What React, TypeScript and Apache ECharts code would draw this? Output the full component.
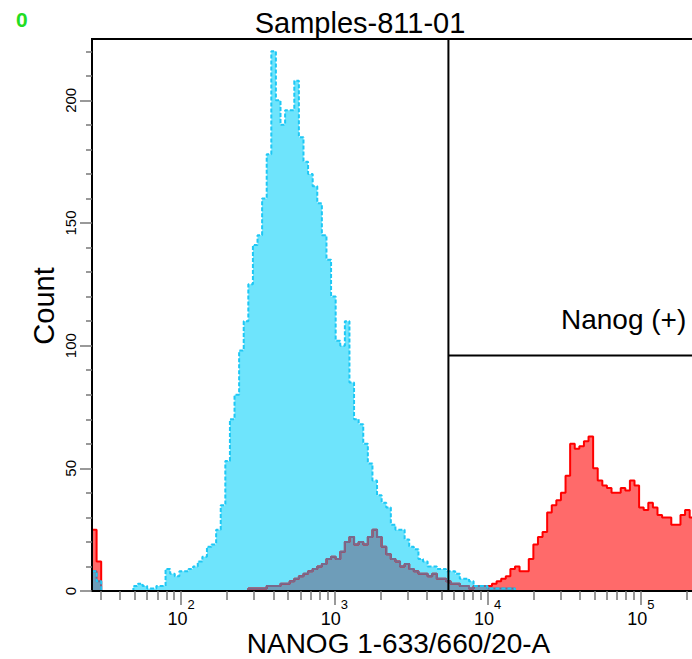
import React, { useEffect, useRef } from "react";
import * as echarts from "echarts";

// ---- axis ranges ----
const X_MIN = 26.2144;
const X_MAX = 262144;
const Y_MAX = 225;

// ---- histogram bins: log10 start and width (decades) ----
const BIN_LOG_START = Math.log10(X_MIN);
const BIN_LOG_WIDTH = 0.03;

// ---- control (cyan) histogram counts, one per bin ----
const CONTROL_COUNTS = [
  8, 4, 0, 0, 0, 0, 0, 0, 0, 2,
  3, 2, 1, 1, 2, 2, 9, 7, 6, 8,
  8, 9, 10, 12, 14, 18, 19, 25, 35, 53,
  70, 80, 98, 110, 125, 141, 145, 160, 178, 220,
  200, 190, 196, 196, 208, 185, 175, 170, 165, 158,
  145, 135, 120, 102, 100, 110, 85, 70, 68, 60,
  52, 45, 39, 36, 34, 27, 25, 25, 21, 18,
  17, 13, 12, 10, 10, 9, 9, 8, 8, 7,
  5, 5, 4, 2, 2, 2, 1, 1, 1, 1,
  1, 1, 0, 0, 0, 0, 0, 0, 0, 0,
  0, 0, 0, 0, 0, 0, 0, 0, 0, 0,
  0, 0, 0, 0, 0, 0, 0, 0, 0, 0,
  0, 0, 0, 0, 0, 0, 0, 0, 0, 0,
  0, 0, 0, 0,
];

// ---- sample (red) histogram counts, one per bin ----
const SAMPLE_COUNTS = [
  25, 12, 0, 0, 0, 0, 0, 0, 0, 0,
  0, 0, 0, 0, 0, 0, 0, 0, 0, 0,
  0, 0, 0, 0, 0, 0, 0, 0, 0, 0,
  0, 0, 0, 0, 1, 1, 1, 1, 2, 2,
  2, 3, 3, 4, 5, 6, 7, 8, 9, 10,
  11, 13, 14, 13, 16, 20, 22, 19, 20, 19,
  22, 25, 22, 18, 15, 13, 12, 10, 11, 9,
  8, 7, 7, 6, 7, 5, 5, 4, 3, 3,
  2, 2, 1, 2, 2, 2, 2, 3, 4, 5,
  6, 9, 10, 8, 8, 13, 19, 22, 24, 32,
  35, 37, 40, 47, 60, 58, 59, 61, 63, 50,
  45, 43, 42, 40, 40, 42, 41, 45, 43, 34,
  33, 36, 34, 31, 30, 30, 27, 27, 31, 33,
  30, 29, 28, 27,
];

// ---- ticks ----
const Y_MAJOR_TICKS = [0, 50, 100, 150, 200];
const Y_MINOR_TICKS = [10, 20, 30, 40, 60, 70, 80, 90, 110, 120, 130, 140, 160, 170, 180, 190, 210, 220];
const X_DECADES = [2, 3, 4, 5];
const X_MINOR_MANTISSAS = [2, 3, 4, 5, 6, 7, 8, 9];
const X_MINOR_EXPONENTS = [1, 2, 3, 4, 5];

// ---- gate ----
const GATE_X = 5550;
const GATE_Y = 96;
const GATE_LABEL = "Nanog (+)";

const TITLE = "Samples-811-01";
const X_NAME = "NANOG 1-633/660/20-A";
const Y_NAME = "Count";
const CORNER_LABEL = "0";

const FONT = '"Liberation Sans", Arial, Helvetica, sans-serif';

const binEdge = (i: number) => Math.pow(10, BIN_LOG_START + i * BIN_LOG_WIDTH);
const toSteps = (counts: number[]) => {
  const pts: number[][] = counts.map((c, i) => [binEdge(i), c]);
  pts.push([binEdge(counts.length), counts[counts.length - 1]]);
  return pts;
};

export default function App() {
  const ref = useRef<HTMLDivElement>(null);

  useEffect(() => {
    if (!ref.current) return;
    const chart = echarts.init(ref.current, undefined, { renderer: "svg" });

    const overlap = CONTROL_COUNTS.map((c, i) => Math.min(c, SAMPLE_COUNTS[i]));
    const logMin = Math.log10(X_MIN);
    const logMax = Math.log10(X_MAX);
    const minorLog: number[] = [];
    X_MINOR_EXPONENTS.forEach((e) =>
      X_MINOR_MANTISSAS.forEach((m) => {
        const v = Math.log10(m * Math.pow(10, e));
        if (v >= logMin && v <= logMax) minorLog.push(v);
      })
    );

    const option: any = {
      animation: false,
      backgroundColor: "#ffffff",
      title: {
        text: TITLE,
        left: "center",
        top: 3,
        textStyle: { fontSize: 29, fontWeight: "normal", color: "#000", fontFamily: FONT },
      },
      grid: {
        left: 92,
        top: 39,
        right: 15,
        bottom: 68,
        containLabel: false,
        outerBoundsMode: "none",
        show: true,
        borderColor: "#000",
        borderWidth: 2,
        backgroundColor: "transparent",
      },
      xAxis: [
        {
          type: "log",
          logBase: 10,
          min: X_MIN,
          max: X_MAX,
          position: "bottom",
          z: 10,
          axisLine: { show: true, onZero: false, lineStyle: { color: "#000", width: 2 } },
          axisTick: { show: false },
          axisLabel: { show: false },
          splitLine: { show: false },
          minorTick: { show: false },
        },
        {
          type: "value",
          min: logMin,
          max: logMax,
          position: "bottom",
          z: 10,
          axisLine: { show: false },
          axisTick: { show: true, customValues: minorLog, length: 9, lineStyle: { color: "#777", width: 1.5 } },
          axisLabel: { show: false },
          splitLine: { show: false },
        },
        {
          type: "value",
          min: logMin,
          max: logMax,
          position: "bottom",
          z: 10,
          axisLine: { show: false },
          axisTick: { show: true, customValues: X_DECADES, length: 14, lineStyle: { color: "#777", width: 1.5 } },
          axisLabel: {
            customValues: X_DECADES,
            margin: 7,
            formatter: (v: number) => `{b|10}{s|${Math.round(v)}}`,
            rich: {
              b: { fontSize: 18, color: "#000", fontFamily: FONT, lineHeight: 30, verticalAlign: "bottom" },
              s: { fontSize: 13, color: "#000", fontFamily: FONT, lineHeight: 16, verticalAlign: "top" },
            },
          },
          splitLine: { show: false },
          name: X_NAME,
          nameLocation: "middle",
          nameGap: 38,
          nameMoveOverlap: false,
          nameTextStyle: { fontSize: 28, lineHeight: 29, color: "#000", fontFamily: FONT },
        },
      ],
      yAxis: [
        {
          type: "value",
          min: 0,
          max: Y_MAX,
          position: "left",
          z: 10,
          axisLine: { show: true, onZero: false, lineStyle: { color: "#000", width: 2 } },
          axisTick: { show: true, customValues: Y_MAJOR_TICKS, length: 12, lineStyle: { color: "#777", width: 1.5 } },
          axisLabel: {
            customValues: Y_MAJOR_TICKS,
            rotate: 90,
            margin: 14,
            fontSize: 15,
            color: "#000",
            fontFamily: FONT,
          },
          splitLine: { show: false },
          name: Y_NAME,
          nameLocation: "middle",
          nameGap: 34,
          nameMoveOverlap: false,
          nameTextStyle: { fontSize: 29, color: "#000", fontFamily: FONT, padding: [0, 0, 0, 18] },
        },
        {
          type: "value",
          min: 0,
          max: Y_MAX,
          position: "left",
          z: 10,
          axisLine: { show: false },
          axisTick: { show: true, customValues: Y_MINOR_TICKS, length: 6, lineStyle: { color: "#777", width: 1.5 } },
          axisLabel: { show: false },
          splitLine: { show: false },
        },
      ],
      series: [
        {
          type: "line",
          name: "control",
          data: toSteps(CONTROL_COUNTS),
          step: "end",
          symbol: "none",
          silent: true,
          lineStyle: { opacity: 0 },
          areaStyle: { color: "#6ee4fc", opacity: 1 },
        },
        {
          type: "line",
          name: "sample",
          data: toSteps(SAMPLE_COUNTS),
          step: "end",
          symbol: "none",
          silent: true,
          lineStyle: { color: "#ff0000", width: 2 },
          areaStyle: { color: "#ff6a6a", opacity: 1 },
        },
        {
          type: "line",
          name: "overlap",
          data: toSteps(overlap),
          step: "end",
          symbol: "none",
          silent: true,
          lineStyle: { color: "#78698c", width: 2 },
          areaStyle: { color: "#6e9db9", opacity: 1 },
        },
        {
          type: "line",
          name: "control outline",
          data: toSteps(CONTROL_COUNTS),
          step: "end",
          symbol: "none",
          silent: true,
          lineStyle: { color: "#1ec8f5", width: 2, type: [4, 2] },
        },
        {
          type: "line",
          name: "gate",
          data: [
            [GATE_X, Y_MAX],
            [GATE_X, 0],
            [GATE_X, GATE_Y],
            [X_MAX, GATE_Y],
          ],
          symbol: "none",
          silent: true,
          lineStyle: { color: "#000", width: 2 },
        },
      ],
      graphic: [
        {
          type: "text",
          left: 16,
          top: 9,
          style: { text: CORNER_LABEL, font: `bold 21px ${FONT}`, fill: "#22dd22" },
        },
        {
          type: "text",
          left: 561,
          top: 305,
          style: { text: GATE_LABEL, font: `28px ${FONT}`, fill: "#000" },
        },
      ],
    };

    chart.setOption(option);
    return () => chart.dispose();
  }, []);

  return (
    <div
      style={{
        position: "fixed",
        left: 0,
        top: 0,
        width: 692,
        height: 659,
        overflow: "hidden",
        background: "#fff",
      }}
    >
      <div ref={ref} style={{ width: 720, height: 659 }} />
    </div>
  );
}
